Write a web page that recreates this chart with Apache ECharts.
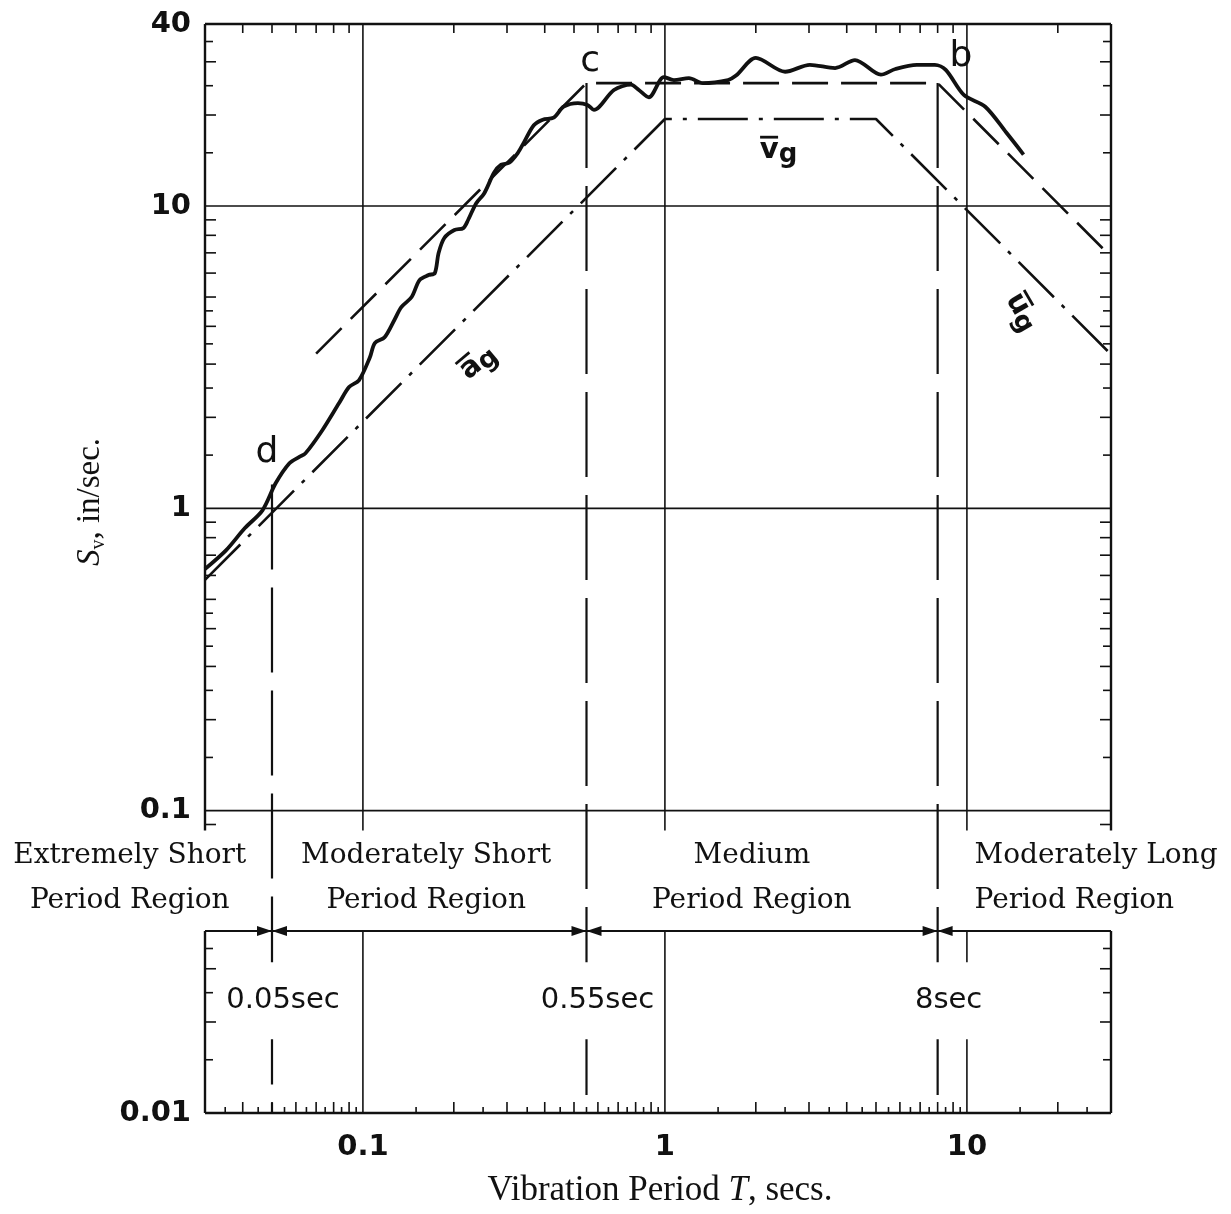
<!DOCTYPE html>
<html>
<head>
<meta charset="utf-8">
<title>Response spectrum period regions</title>
<script src="https://cdn.jsdelivr.net/npm/echarts@6/dist/echarts.min.js"></script>
<style>
  html, body { margin: 0; padding: 0; background: #fff; }
  #chart { width: 1231px; height: 1214px; }
</style>
</head>
<body>
<div id="chart"></div>
<script>
// Vibration period T (sec) of the computed response spectrum
const period = [
  0.030, 0.0352, 0.0406, 0.0465, 0.0514, 0.0571, 0.0616, 0.0645, 0.0733, 0.0834,
  0.090, 0.097, 0.1055, 0.1095, 0.118, 0.127, 0.134, 0.145, 0.154, 0.165,
  0.173, 0.178, 0.186, 0.201, 0.215, 0.223, 0.237, 0.252, 0.272, 0.287,
  0.305, 0.326, 0.341, 0.368, 0.394, 0.428, 0.462, 0.515, 0.554, 0.582,
  0.678, 0.772, 0.820, 0.885, 0.992, 1.071, 1.201, 1.336, 1.618, 1.72,
  2.0, 2.50, 3.02, 3.66, 4.26, 5.19, 5.8, 6.83, 7.83, 8.51,
  9.77, 11.5, 13.5, 15.4
];
// Spectral pseudo-velocity S_v (in/sec) at each period
const velocity = [
  0.63, 0.726, 0.859, 0.985, 1.21, 1.41, 1.48, 1.52, 1.81, 2.23,
  2.52, 2.65, 3.16, 3.52, 3.68, 4.19, 4.63, 5.0, 5.69, 5.91,
  6.0, 6.98, 7.84, 8.33, 8.45, 8.99, 10.2, 11.0, 12.9, 13.7,
  13.9, 15.0, 16.2, 18.5, 19.3, 19.6, 21.3, 21.9, 21.6, 20.8,
  24.2, 25.2, 24.2, 22.9, 26.7, 26.1, 26.5, 25.5, 26.1, 27.0,
  30.9, 27.8, 29.3, 28.6, 30.4, 27.2, 28.4, 29.3, 29.3, 28.2,
  23.3, 21.3, 17.5, 14.8
];

// Idealized spectrum (dashed): acceleration, velocity and displacement bounds
const boundPeriod = [0.07, 0.55, 8, 30];
const boundVelocity = [3.25, 25.5, 25.5, 6.8];

// Ground motion maxima (dash-dot): a_g, v_g and u_g lines
const groundPeriod = [0.03, 1.0, 5.0, 30];
const groundVelocity = [0.58, 19.4, 19.4, 3.23];

// Region boundaries
const breakPeriod = [0.05, 0.55, 8];
const breakTop = [1.2, 25.5, 25.5];
const breakLabels = ['0.05sec', '0.55sec', '8sec'];
const regionNames = [
  'Extremely Short\nPeriod Region',
  'Moderately Short\nPeriod Region',
  'Medium\nPeriod Region',
  'Moderately Long\nPeriod Region'
];

// Axis ticks
const xTickValues = [0.1, 1, 10];
const xTickLabels = ['0.1', '1', '10'];
const yTickValues = [0.01, 0.1, 1, 10, 40];
const yTickLabels = ['0.01', '0.1', '1', '10', '40'];
const decades = [0.01, 0.1, 1, 10];
const yMinorSteps = [1.5, 2, 2.5, 3, 3.5, 4, 4.5, 5, 6, 7, 8, 9];
const xMinorTopSteps = [2, 3, 4, 5, 6, 7, 8, 9];
const xMinorBottomSteps = [1.5, 2, 2.5, 3, 3.5, 4, 4.5, 5, 5.5, 6, 6.5, 7, 7.5, 8, 8.5, 9, 9.5];

// ---- layout ----
const INK = '#111';
const SANS = '"DejaVu Sans"';
const X_MIN = 0.03, X_MAX = 30, Y_MIN = 0.01, Y_MAX = 40;
const BAND_TOP = 0.086;       // frame and grid pause below the 0.1 line for the region names
const ARROW_Y = 0.04;         // level of the region arrows
const BREAK_LABEL_Y = 0.0235;
const REGION_LABEL_Y = 0.06;
const regionAnchor = [[0.0169, 'center'], [0.162, 'center'], [1.94, 'center'], [10.6, 'left']];
const letterMarks = [
  { text: 'c', t: 0.565, s: 30.0 },
  { text: 'b', t: 9.55, s: 31.1 },
  { text: 'd', t: 0.0481, s: 1.53 }
];
const groundMarks = [
  { base: 'v', t: 2.37, s: 15.3, angle: 0 },
  { base: 'a', t: 0.240, s: 3.04, angle: 40 },
  { base: 'u', t: 15.2, s: 4.46, angle: -60 }
];

const zip = (a, b) => a.map((v, i) => [v, b[i]]);

function labelFor(v, values, labels) {
  for (let i = 0; i < values.length; i++) {
    if (Math.abs(Math.log10(v) - Math.log10(values[i])) < 1e-4) return labels[i];
  }
  return '';
}

function renderFrame(params, api) {
  const P = (x, y) => api.coord([x, y]);
  const kids = [];
  const seg = (a, b, w) => kids.push({
    type: 'line', shape: { x1: a[0], y1: a[1], x2: b[0], y2: b[1] },
    style: { stroke: INK, lineWidth: w }
  });
  const tri = pts => kids.push({ type: 'polygon', shape: { points: pts }, style: { fill: INK } });

  // decade grid lines
  yTickValues.forEach(v => { if (v > Y_MIN && v < Y_MAX) seg(P(X_MIN, v), P(X_MAX, v), 1.6); });
  xTickValues.forEach(v => {
    seg(P(v, Y_MAX), P(v, BAND_TOP), 1.6);
    seg(P(v, ARROW_Y), P(v, Y_MIN), 1.6);
  });
  // outer frame, open at the sides where the region names sit
  seg(P(X_MIN, Y_MAX), P(X_MAX, Y_MAX), 2.4);
  seg(P(X_MIN, Y_MIN), P(X_MAX, Y_MIN), 2.4);
  [X_MIN, X_MAX].forEach(x => {
    seg(P(x, Y_MAX), P(x, BAND_TOP), 2.4);
    seg(P(x, ARROW_Y), P(x, Y_MIN), 2.4);
  });
  // minor log ticks
  decades.forEach(d => {
    yMinorSteps.forEach(m => {
      const v = m * d;
      const upper = v > BAND_TOP && v < Y_MAX;
      const lower = v > Y_MIN && v < ARROW_Y * 0.999;
      if (!upper && !lower) return;
      const len = Number.isInteger(m) ? 11 : 8;
      const l = P(X_MIN, v), r = P(X_MAX, v);
      seg(l, [l[0] + len, l[1]], 1.6);
      seg(r, [r[0] - len, r[1]], 1.6);
    });
    xMinorTopSteps.forEach(m => {
      const v = m * d;
      if (v <= X_MIN * 1.001 || v >= X_MAX * 0.999) return;
      const p = P(v, Y_MAX);
      seg(p, [p[0], p[1] + 9], 1.6);
    });
    xMinorBottomSteps.forEach(m => {
      const v = m * d;
      if (v <= X_MIN * 1.001 || v >= X_MAX * 0.999) return;
      const p = P(v, Y_MIN);
      seg(p, [p[0], p[1] - (Number.isInteger(m) ? 11 : 6)], 1.6);
    });
  });
  // region arrows
  seg(P(X_MIN, ARROW_Y), P(X_MAX, ARROW_Y), 1.8);
  breakPeriod.forEach(t => {
    const [x, y] = P(t, ARROW_Y);
    tri([[x, y], [x - 15, y - 5], [x - 15, y + 5]]);
    tri([[x, y], [x + 15, y - 5], [x + 15, y + 5]]);
  });
  return { type: 'group', children: kids };
}

function renderBreak(params, api) {
  const t = api.value(0), top = api.value(1);
  const a = api.coord([t, top]), b = api.coord([t, Y_MIN]);
  const lab = api.coord([t, BREAK_LABEL_Y]);
  return {
    type: 'group',
    children: [
      { type: 'line', shape: { x1: a[0], y1: a[1], x2: b[0], y2: b[1] },
        style: { stroke: INK, lineWidth: 2.2, lineDash: [85, 18] } },
      { type: 'text', x: lab[0] + 11, y: lab[1],
        style: { text: breakLabels[params.dataIndex], font: '29px ' + SANS, fill: INK,
                 align: 'center', verticalAlign: 'middle', backgroundColor: '#fff', padding: [24, 3] } }
    ]
  };
}

function renderMarks(params, api) {
  const kids = [];
  letterMarks.forEach(m => {
    const p = api.coord([m.t, m.s]);
    kids.push({ type: 'text', x: p[0], y: p[1],
      style: { text: m.text, font: '500 36px ' + SANS, fill: INK, align: 'center', verticalAlign: 'middle' } });
  });
  groundMarks.forEach(m => {
    const p = api.coord([m.t, m.s]);
    kids.push({
      type: 'group', x: p[0], y: p[1], rotation: m.angle * Math.PI / 180,
      children: [
        { type: 'text', x: -9, y: 0,
          style: { text: m.base, font: 'bold 29px ' + SANS, fill: INK, align: 'center', verticalAlign: 'middle' } },
        { type: 'line', shape: { x1: -18, y1: -13, x2: 0, y2: -13 }, style: { stroke: INK, lineWidth: 2.8 } },
        { type: 'text', x: 10, y: 5,
          style: { text: 'g', font: 'bold 26px ' + SANS, fill: INK, align: 'center', verticalAlign: 'middle' } }
      ]
    });
  });
  return { type: 'group', children: kids };
}

function renderRegion(params, api) {
  const p = api.coord([api.value(0), api.value(1)]);
  return {
    type: 'text', x: p[0], y: p[1],
    style: { text: regionNames[params.dataIndex], font: '28px "DejaVu Serif"', fill: INK,
             align: regionAnchor[params.dataIndex][1], verticalAlign: 'middle', lineHeight: 45 }
  };
}

const chart = echarts.init(document.getElementById('chart'), null, { renderer: 'canvas' });

chart.setOption({
  animation: false,
  backgroundColor: '#fff',
  grid: { left: 205, right: 120, top: 24, bottom: 101, containLabel: false, outerBoundsMode: 'none' },
  xAxis: {
    type: 'log', logBase: 10, min: X_MIN, max: X_MAX,
    axisLine: { show: false }, axisTick: { show: false }, splitLine: { show: false },
    axisLabel: { margin: 20, fontFamily: 'DejaVu Sans', fontSize: 29, fontWeight: 'bold', color: INK,
                 formatter: v => labelFor(v, xTickValues, xTickLabels) }
  },
  yAxis: {
    type: 'log', logBase: 10, min: Y_MIN, max: Y_MAX,
    axisLine: { show: false }, axisTick: { show: false }, splitLine: { show: false },
    axisLabel: { margin: 14, fontFamily: 'DejaVu Sans', fontSize: 29, fontWeight: 'bold', color: INK,
                 formatter: v => labelFor(v, yTickValues, yTickLabels) }
  },
  graphic: [
    { type: 'text', x: 660, y: 1191,
      style: { text: '{a|Vibration Period }{i|T}{a|, secs.}', align: 'center', verticalAlign: 'middle',
               rich: { a: { fontFamily: 'Liberation Serif', fontSize: 35, fill: INK },
                       i: { fontFamily: 'Liberation Serif', fontSize: 35, fontStyle: 'italic', fill: INK } } } },
    { type: 'text', x: 90, y: 502, rotation: Math.PI / 2,
      style: { text: '{i|S}{s|v}{a|, in/sec.}', align: 'center', verticalAlign: 'middle',
               rich: { a: { fontFamily: 'Liberation Serif', fontSize: 33, fill: INK, lineHeight: 38 },
                       i: { fontFamily: 'Liberation Serif', fontSize: 33, fontStyle: 'italic', fill: INK, lineHeight: 38 },
                       s: { fontFamily: 'Liberation Serif', fontSize: 20, fill: INK, lineHeight: 38, verticalAlign: 'bottom' } } } }
  ],
  series: [
    { type: 'custom', name: 'frame', renderItem: renderFrame, data: [[1, 1]], silent: true, z: 1 },
    { type: 'custom', name: 'breaks', renderItem: renderBreak, data: zip(breakPeriod, breakTop), silent: true, z: 2 },
    { type: 'line', name: 'ground motion', data: zip(groundPeriod, groundVelocity), showSymbol: false, silent: true, z: 3,
      lineStyle: { color: INK, width: 2.6, type: [50, 11, 4, 11] } },
    { type: 'line', name: 'idealized spectrum', data: zip(boundPeriod, boundVelocity), showSymbol: false, silent: true, z: 3,
      lineStyle: { color: INK, width: 2.6, type: [36, 13] } },
    { type: 'line', name: 'response spectrum', data: zip(period, velocity), showSymbol: false, silent: true, z: 4,
      smooth: 0.3, lineStyle: { color: INK, width: 3.8 } },
    { type: 'custom', name: 'marks', renderItem: renderMarks, data: [[1, 1]], silent: true, z: 5 },
    { type: 'custom', name: 'regions', renderItem: renderRegion,
      data: regionAnchor.map(r => [r[0], REGION_LABEL_Y]), silent: true, z: 5 }
  ]
});
</script>
</body>
</html>
